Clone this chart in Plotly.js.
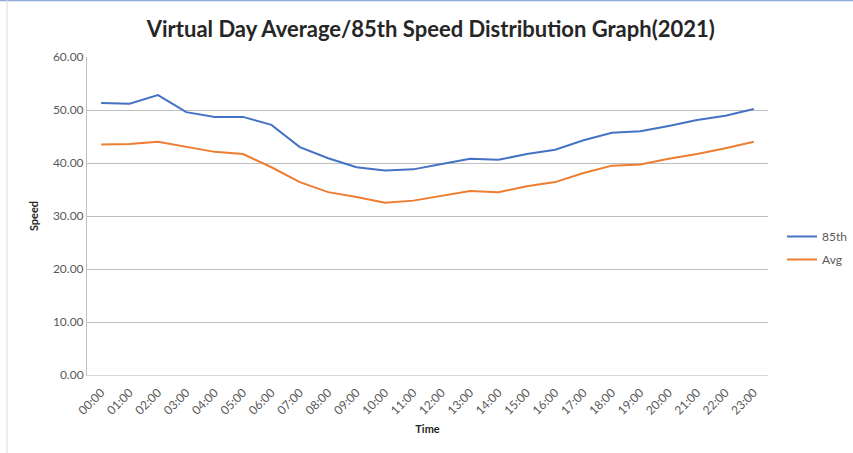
<!DOCTYPE html>
<html>
<head>
<meta charset="utf-8">
<script src="https://cdn.plot.ly/plotly-3.0.1.min.js"></script>
<style>html,body{margin:0;padding:0;background:#fff;}#chart{width:853px;height:453px;}</style>
</head>
<body>
<div id="chart"></div>
<script>
const times = ["00:00","01:00","02:00","03:00","04:00","05:00","06:00","07:00","08:00","09:00","10:00","11:00","12:00","13:00","14:00","15:00","16:00","17:00","18:00","19:00","20:00","21:00","22:00","23:00"];
const p85 = [51.3,51.2,52.8,49.6,48.7,48.7,47.2,43.0,40.9,39.2,38.6,38.8,39.8,40.8,40.6,41.7,42.5,44.3,45.7,46.0,47.0,48.1,48.9,50.2];
const avg = [43.5,43.6,44.0,43.0,42.1,41.7,39.2,36.4,34.5,33.6,32.5,32.9,33.8,34.7,34.5,35.6,36.4,38.1,39.5,39.7,40.8,41.7,42.8,44.0];
const yTicks = [0,10,20,30,40,50,60];

const font = "Lato, 'Open Sans', sans-serif";
const traces = [
  {x: times, y: p85, name: "85th", legendgroup: "a", type: "scatter", mode: "lines", line: {color: "#4472C4", width: 2}},
  {x: times, y: avg, name: "Avg", legendgroup: "b", type: "scatter", mode: "lines", line: {color: "#ED7D31", width: 2}}
];
const layout = {
  width: 853, height: 453,
  margin: {l: 87, r: 85, t: 57, b: 78, autoexpand: false},
  paper_bgcolor: "#fff", plot_bgcolor: "#fff",
  font: {family: font, color: "#595959", size: 11},
  title: {text: "<b>Virtual Day Average/85th Speed Distribution Graph(2021)</b>", x: 0.505, xanchor: "center", y: 0.935, yanchor: "middle", font: {family: font, size: 22, color: "#262626"}},
  xaxis: {
    type: "category", tickangle: -45, showgrid: false, showline: true, linecolor: "#d9d9d9", linewidth: 1, automargin: false,
    ticks: "", ticklabelstandoff: 5, tickfont: {size: 12, color: "#595959"}, range: [-0.5, 23.5],
    title: {text: "<b>Time</b>", font: {size: 11, color: "#262626"}, standoff: 8}
  },
  yaxis: {
    range: [0, 60], tickvals: yTicks, ticktext: yTicks.map(v => v.toFixed(2)), automargin: false,
    showgrid: true, gridcolor: "#bfbfbf", gridwidth: 1, zeroline: false,
    showline: true, linecolor: "#bfbfbf", ticks: "", tickfont: {size: 12, color: "#595959"},
    title: {text: "<b>Speed</b>", font: {size: 11, color: "#262626"}, standoff: 12}
  },
  legend: {xref: "container", yref: "container", x: 782/853, xanchor: "left", y: 1 - 248/453, yanchor: "middle", font: {size: 12, color: "#595959"}, traceorder: "grouped", tracegroupgap: 4, itemwidth: 30},
  shapes: [
    {type: "line", xref: "paper", yref: "paper", x0: -87/681, x1: 853/681, y0: (318+57-0.5)/318, y1: (318+57-0.5)/318, line: {color: "#8faadc", width: 1.5}},
    {type: "line", xref: "paper", yref: "paper", x0: -80/681, x1: -80/681, y0: -78/318, y1: (318+57)/318, line: {color: "#d9d9d9", width: 1}}
  ]
};
Plotly.newPlot("chart", traces, layout, {staticPlot: true, displayModeBar: false});
</script>
</body>
</html>
